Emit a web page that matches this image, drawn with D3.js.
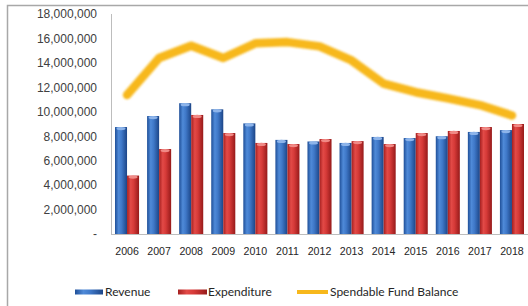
<!DOCTYPE html>
<html>
<head>
<meta charset="utf-8">
<script src="https://cdnjs.cloudflare.com/ajax/libs/d3/7.8.5/d3.min.js"></script>
<style>
  body { margin: 0; background: #fff; }
  svg { display: block; font-family: Lato, "Open Sans", sans-serif; }
</style>
</head>
<body>
<svg id="chart"></svg>
<script>
// Data
const years = ['2006', '2007', '2008', '2009', '2010', '2011', '2012', '2013', '2014', '2015', '2016', '2017', '2018']
const revenue = [8750000, 9650000, 10700000, 10200000, 9050000, 7700000, 7570000, 7450000, 7940000, 7850000, 8000000, 8350000, 8500000]
const expenditure = [4780000, 6950000, 9740000, 8260000, 7450000, 7360000, 7770000, 7600000, 7360000, 8260000, 8430000, 8750000, 9000000]
const balance = [11370000, 14400000, 15400000, 14400000, 15600000, 15700000, 15350000, 14200000, 12300000, 11600000, 11100000, 10550000, 9700000]
const yTicks = [0, 2000000, 4000000, 6000000, 8000000, 10000000, 12000000, 14000000, 16000000, 18000000]
const legendItems = ['Revenue', 'Expenditure', 'Spendable Fund Balance']

const W = 528, H = 306
const plot = { left: 111, right: 528, top: 14, bottom: 234 }

const svg = d3.select('#chart').attr('width', W).attr('height', H)

// Outer frame (only top and left edges visible)
svg.append('path')
  .attr('d', `M7.5,${H} V5.5 H${W}`)
  .attr('fill', 'none')
  .attr('stroke', '#a8a8a8')
  .attr('stroke-width', 1.5)

// Gradients for the cylinder-like bars
const defs = svg.append('defs')
const makeGrad = (id, stops) => {
  const g = defs.append('linearGradient').attr('id', id)
    .attr('x1', '0%').attr('x2', '100%').attr('y1', '0%').attr('y2', '0%')
  stops.forEach(s => g.append('stop').attr('offset', s[0]).attr('stop-color', s[1]))
}
makeGrad('blueGrad', [['0%', '#1f4f98'], ['30%', '#4f8ad8'], ['55%', '#3f78c8'], ['100%', '#1c4587']])
makeGrad('redGrad', [['0%', '#a51f1f'], ['30%', '#e24a47'], ['55%', '#d63a38'], ['100%', '#961a1a']])
defs.append('filter').attr('id', 'soft')
  .append('feGaussianBlur').attr('stdDeviation', 0.8)

// Scales
const x = d3.scaleBand()
  .domain(years)
  .range([plot.left, plot.right])
  .paddingInner(0.25)
  .paddingOuter(0.125)

const x1 = d3.scaleBand()
  .domain(['rev', 'exp'])
  .range([0, x.bandwidth()])

const y = d3.scaleLinear()
  .domain([0, 18000000])
  .range([plot.bottom, plot.top])

// Y axis labels
const yAxis = d3.axisLeft(y)
  .tickValues(yTicks)
  .tickSize(0)
  .tickPadding(14)
  .tickFormat(d => d === 0 ? '-' : d3.format(',')(d))

const yg = svg.append('g')
  .attr('transform', `translate(${plot.left},0)`)
  .call(yAxis)
yg.select('.domain').remove()
yg.selectAll('text').attr('font-size', 12).attr('fill', '#404040')

// X axis labels
const xAxis = d3.axisBottom(x).tickSize(0).tickPadding(13)
const xg = svg.append('g')
  .attr('transform', `translate(0,${plot.bottom})`)
  .call(xAxis)
xg.select('.domain').remove()
xg.selectAll('text').attr('font-size', 10.6).attr('fill', '#262626')

// Axis lines
svg.append('line')
  .attr('x1', plot.left + 0.5).attr('x2', plot.left + 0.5)
  .attr('y1', plot.top).attr('y2', plot.bottom)
  .attr('stroke', '#bdbdbd')
svg.append('line')
  .attr('x1', plot.left).attr('x2', plot.right)
  .attr('y1', plot.bottom + 0.5).attr('y2', plot.bottom + 0.5)
  .attr('stroke', '#bdbdbd')

// Bars
const series = [
  { key: 'rev', values: revenue, fill: 'url(#blueGrad)', cap: '#8db4ea' },
  { key: 'exp', values: expenditure, fill: 'url(#redGrad)', cap: '#f08a86' }
]

series.forEach(s => {
  const g = svg.append('g')
  g.selectAll('rect')
    .data(years)
    .enter()
    .append('rect')
    .attr('x', d => x(d) + x1(s.key))
    .attr('y', (d, i) => y(s.values[i]))
    .attr('width', x1.bandwidth())
    .attr('height', (d, i) => plot.bottom - y(s.values[i]))
    .attr('fill', s.fill)
  // lighter top cap
  g.selectAll('ellipse')
    .data(years)
    .enter()
    .append('ellipse')
    .attr('cx', d => x(d) + x1(s.key) + x1.bandwidth() / 2)
    .attr('cy', (d, i) => y(s.values[i]) + 1.5)
    .attr('rx', x1.bandwidth() / 2 - 1.5)
    .attr('ry', 1.6)
    .attr('fill', s.cap)
})

// Balance line
const line = d3.line()
  .x((d, i) => x(years[i]) + x.bandwidth() / 2)
  .y(d => y(d))

svg.append('path')
  .datum(balance)
  .attr('d', line)
  .attr('fill', 'none')
  .attr('stroke', '#f7b81c')
  .attr('stroke-width', 8.5)
  .attr('stroke-linejoin', 'round')
  .attr('stroke-linecap', 'round')
  .attr('filter', 'url(#soft)')

// Legend
const legendY = 292
const legend = svg.append('g')
const lx = [75, 178, 297]
const tx = [105, 208, 330]

legend.append('rect')
  .attr('x', lx[0]).attr('y', legendY - 2.5).attr('width', 28).attr('height', 5)
  .attr('fill', 'url(#blueGrad)')
legend.append('rect')
  .attr('x', lx[1]).attr('y', legendY - 2.5).attr('width', 29).attr('height', 5)
  .attr('fill', 'url(#redGrad)')
legend.append('line')
  .attr('x1', lx[2]).attr('x2', lx[2] + 31)
  .attr('y1', legendY).attr('y2', legendY)
  .attr('stroke', '#f7b81c').attr('stroke-width', 4)

legend.selectAll('text')
  .data(legendItems)
  .enter()
  .append('text')
  .attr('x', (d, i) => tx[i])
  .attr('y', legendY)
  .attr('dy', '0.35em')
  .attr('font-size', 12)
  .attr('fill', '#262626')
  .text(d => d)
</script>
</body>
</html>
